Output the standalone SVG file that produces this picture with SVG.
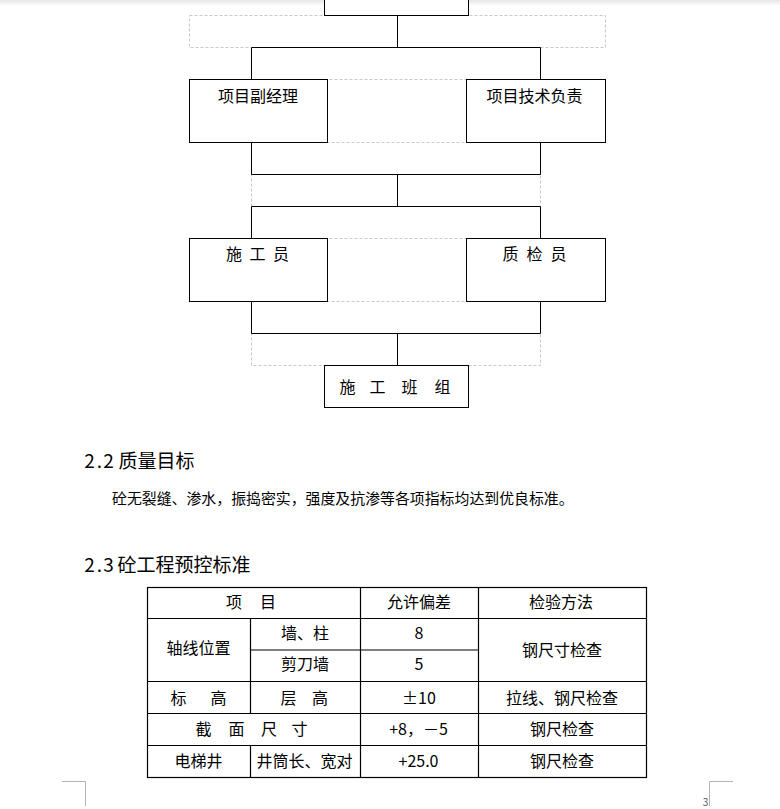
<svg xmlns="http://www.w3.org/2000/svg" width="780" height="809" viewBox="0 0 780 809">
<defs>
<linearGradient id="topShade" x1="0" y1="0" x2="0" y2="1">
<stop offset="0" stop-color="#e6e6e6"/>
<stop offset="1" stop-color="#ffffff"/>
</linearGradient>
</defs>
<style>
.box{fill:#fff;stroke:#000;stroke-width:1}
.dash{fill:none;stroke:#c8c8c8;stroke-width:1;stroke-dasharray:3,2}
.ln{fill:none;stroke:#000;stroke-width:1}
.tl{fill:none;stroke:#000;stroke-width:1.2}
.mark{fill:none;stroke:#b4b4b4;stroke-width:1}
text{font-family:"Noto Sans CJK SC","Noto Sans",sans-serif;fill:#000}
.t16{font-size:16px}
.c{text-anchor:middle}
.h{font-size:19px}
.b{font-size:14.9px}
</style>
<rect x="0" y="0" width="780" height="809" fill="#fff"/>
<rect x="0" y="0" width="780" height="6" fill="url(#topShade)"/>

<!-- dashed layout containers -->
<g id="containers">
<rect class="dash" x="189.5" y="15.5" width="416" height="32"/>
<rect class="dash" x="189.5" y="79.5" width="416" height="63"/>
<rect class="dash" x="251.5" y="174.5" width="289" height="32"/>
<rect class="dash" x="189.5" y="238.5" width="416" height="63"/>
<rect class="dash" x="251.5" y="333.5" width="289" height="32"/>
</g>

<g id="connectors">
<path class="ln" d="M397.5 15.5V47.5M251.5 47.5H540.5M251.5 47.5V79.5M540.5 47.5V79.5"/>
<path class="ln" d="M251.5 142.5V174.5M540.5 142.5V174.5M251.5 174.5H540.5M397.5 174.5V206.5M251.5 206.5H540.5M251.5 206.5V238.5M540.5 206.5V238.5"/>
<path class="ln" d="M251.5 301.5V333.5M540.5 301.5V333.5M251.5 333.5H540.5M397.5 333.5V365.5"/>
</g>

<g id="node-top">
<rect class="box" x="324.5" y="-10" width="144" height="25.5"/>
</g>
<g id="node-fujingli">
<rect class="box" x="189.5" y="79.5" width="138" height="63"/>
<text class="t16 c" x="258" y="101.5">项目副经理</text>
</g>
<g id="node-jishu">
<rect class="box" x="466.5" y="79.5" width="139" height="63"/>
<text class="t16 c" x="534.5" y="101.5">项目技术负责</text>
</g>
<g id="node-shigongyuan">
<rect class="box" x="189.5" y="238.5" width="138" height="63"/>
<text class="t16 c" x="234 257.5 281" y="259.5">施工员</text>
</g>
<g id="node-zhijianyuan">
<rect class="box" x="466.5" y="238.5" width="139" height="63"/>
<text class="t16 c" x="510.5 534.5 558.5" y="259.5">质检员</text>
</g>
<g id="node-banzu">
<rect class="box" x="324.5" y="365.5" width="144" height="42"/>
<text class="t16 c" x="347.5 377.5 409.5 442.5" y="393">施工班组</text>
</g>

<g id="section-2-2">
<text class="h c" x="89.5 99.5 108.5" y="468">2.2</text>
<text class="h" x="118.5" y="468">质量目标</text>
<text class="b" x="112" y="503.5">砼无裂缝、渗水，振捣密实，强度及抗渗等各项指标均达到优良标准。</text>
</g>

<g id="section-2-3">
<text class="h c" x="89.5 99.5 108.5" y="571.5">2.3</text>
<text class="h" x="117.5" y="571.5">砼工程预控标准</text>
</g>

<g id="table">
<rect class="tl" x="147.5" y="587.5" width="499" height="190"/>
<path class="tl" d="M147.5 618.5H646.5M250.5 650H478.5M147.5 681.5H646.5M147.5 713.5H646.5M147.5 745.5H646.5M360.5 587.5V777.5M478.5 587.5V777.5M250.5 618.5V713.5M250.5 745.5V777.5"/>
<text class="t16 c" x="234 268" y="607.5">项目</text>
<text class="t16 c" x="419" y="607.5">允许偏差</text>
<text class="t16 c" x="561" y="607.5">检验方法</text>

<text class="t16 c" x="198.5" y="653.5">轴线位置</text>
<text class="t16 c" x="305" y="639">墙、柱</text>
<text class="t16 c" x="419" y="639">8</text>
<text class="t16 c" x="305" y="670">剪刀墙</text>
<text class="t16 c" x="419" y="670">5</text>
<text class="t16 c" x="562" y="656">钢尺寸检查</text>

<text class="t16 c" x="178.5 218.5" y="703.5">标高</text>
<text class="t16 c" x="288.5 320" y="703.5">层高</text>
<text class="t16 c" x="419" y="703.5">±10</text>
<text class="t16 c" x="562" y="703.5">拉线、钢尺检查</text>

<text class="t16 c" x="203.5 236.5 269 299.5" y="735">截面尺寸</text>
<text class="t16 c" x="418.5" y="735">+8，－5</text>
<text class="t16 c" x="562" y="735">钢尺检查</text>

<text class="t16 c" x="198.5" y="767">电梯井</text>
<text class="t16 c" x="304.5" y="767">井筒长、宽对</text>
<text class="t16 c" x="418.5" y="767">+25.0</text>
<text class="t16 c" x="562" y="767">钢尺检查</text>
</g>

<g id="page-marks">
<path class="mark" d="M62 781.5H85.5V806"/>
<path class="mark" d="M709.5 806V781.5H733"/>
<text x="705.5" y="806" style="font-size:10px;fill:#555;text-anchor:middle">3</text>
</g>
</svg>
